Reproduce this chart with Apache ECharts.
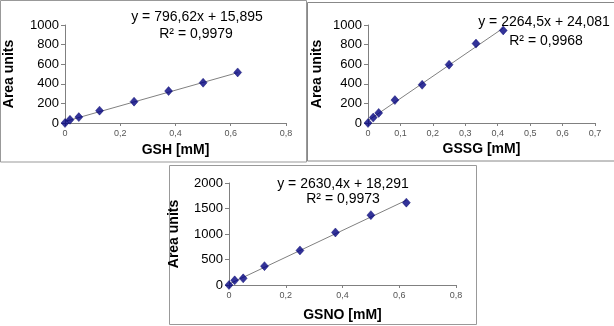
<!DOCTYPE html>
<html>
<head>
<meta charset="utf-8">
<script src="https://cdn.jsdelivr.net/npm/echarts@6/dist/echarts.min.js"></script>
<style>
  html, body { margin: 0; padding: 0; background: #fff; }
  #area { width: 614px; height: 326px; }
</style>
</head>
<body>
<div id="area"></div>
<script>
// GSH
let gshX = [0, 0.018, 0.05, 0.125, 0.25, 0.375, 0.5, 0.625]
let gshY = [0, 33, 60, 126, 218, 326, 411, 516]
// GSSG
let gssgX = [0, 0.016, 0.033, 0.083, 0.167, 0.25, 0.333, 0.417]
let gssgY = [0, 55, 103, 234, 390, 595, 810, 945]
// GSNO
let gsnoX = [0, 0.02, 0.05, 0.125, 0.25, 0.375, 0.5, 0.625]
let gsnoY = [0, 91, 130, 370, 678, 1030, 1370, 1615]

let xNames = ['GSH [mM]', 'GSSG [mM]', 'GSNO [mM]']
let equations = ['y = 796,62x + 15,895', 'y = 2264,5x + 24,081', 'y = 2630,4x + 18,291']
let r2Labels = ['R² = 0,9979', 'R² = 0,9968', 'R² = 0,9973']
let slopes = [796.62, 2264.5, 2630.4]
let intercepts = [15.895, 24.081, 18.291]

let font = 'Liberation Sans, Arial, sans-serif'
let xs = [gshX, gssgX, gsnoX]
let ys = [gshY, gssgY, gsnoY]

function pairs(a, b) {
  return a.map((v, i) => [v, b[i]])
}
// trend line end points from the displayed equation
function trend(i) {
  let x = xs[i]
  let x0 = x[0], x1 = x[x.length - 1]
  return [[x0, slopes[i] * x0 + intercepts[i]], [x1, slopes[i] * x1 + intercepts[i]]]
}
function comma(v) {
  return v === 0 ? '0' : (+v.toFixed(1)).toString().replace('.', ',')
}

function xAxis(i, max, interval, gap) {
  return {
    type: 'value', gridIndex: i, min: 0, max: max, interval: interval,
    name: xNames[i], nameLocation: 'middle', nameGap: gap,
    nameTextStyle: { fontFamily: font, fontSize: 14, fontWeight: 'bold', color: '#000' },
    axisLine: { lineStyle: { color: '#808080' } },
    axisTick: { length: 3, lineStyle: { color: '#808080' } },
    axisLabel: { fontFamily: font, fontSize: 9, color: '#555', margin: 6, formatter: comma },
    splitLine: { show: false }
  }
}
function yAxis(i, max, interval, gap) {
  return {
    type: 'value', gridIndex: i, min: 0, max: max, interval: interval,
    name: 'Area units', nameLocation: 'middle', nameGap: gap, nameRotate: 90,
    nameTextStyle: { fontFamily: font, fontSize: 14, fontWeight: 'bold', color: '#000' },
    axisLine: { show: true, lineStyle: { color: '#808080' } },
    axisTick: { show: true, length: 4, lineStyle: { color: '#808080' } },
    axisLabel: { fontFamily: font, fontSize: 13, color: '#000', margin: 6, formatter: v => String(v) },
    splitLine: { show: false }
  }
}

let series = []
for (let i = 0; i < 3; i++) {
  series.push({
    type: 'line', xAxisIndex: i, yAxisIndex: i, data: trend(i),
    symbol: 'none', lineStyle: { color: '#808080', width: 1 }, z: 1
  })
  series.push({
    type: 'scatter', xAxisIndex: i, yAxisIndex: i, data: pairs(xs[i], ys[i]),
    symbol: 'diamond', symbolSize: [8, 9], itemStyle: { color: '#000080', borderColor: '#00006a', borderWidth: 0.5 }, z: 2
  })
}

function label(x, y, text) {
  return {
    type: 'text', x: x, y: y, z: 10,
    style: { text: text, fontFamily: font, fontSize: 14, fill: '#000', align: 'center', verticalAlign: 'middle' }
  }
}
function box(x, y, w, h, color) {
  return {
    type: 'rect', shape: { x: x, y: y, width: w, height: h }, z: 0,
    style: { fill: 'none', stroke: color, lineWidth: 1 }
  }
}

let option = {
  animation: false,
  grid: [
    { left: 65, top: 25, width: 221, height: 98 },
    { left: 368, top: 25, width: 227, height: 98 },
    { left: 229, top: 183, width: 227, height: 102 }
  ],
  xAxis: [xAxis(0, 0.8, 0.2, 20), xAxis(1, 0.7, 0.1, 19), xAxis(2, 0.8, 0.2, 23)],
  yAxis: [yAxis(0, 1000, 200, 49), yAxis(1, 1000, 200, 44), yAxis(2, 2000, 500, 48)],
  series: series,
  graphic: [
    box(0.5, 0.5, 306, 161.5, '#999'),
    box(307.5, 2.5, 310, 158.5, '#888'),
    box(169.5, 165.5, 307, 159, '#999'),
    label(197, 17, equations[0]),
    label(196, 34, r2Labels[0]),
    label(544, 22, equations[1]),
    label(546, 41, r2Labels[1]),
    label(343, 184, equations[2]),
    label(343, 199, r2Labels[2])
  ]
}

let myChart = echarts.init(document.getElementById('area'))
myChart.setOption(option)
window.addEventListener('resize', function () {
  myChart.resize()
}, false)
</script>
</body>
</html>
